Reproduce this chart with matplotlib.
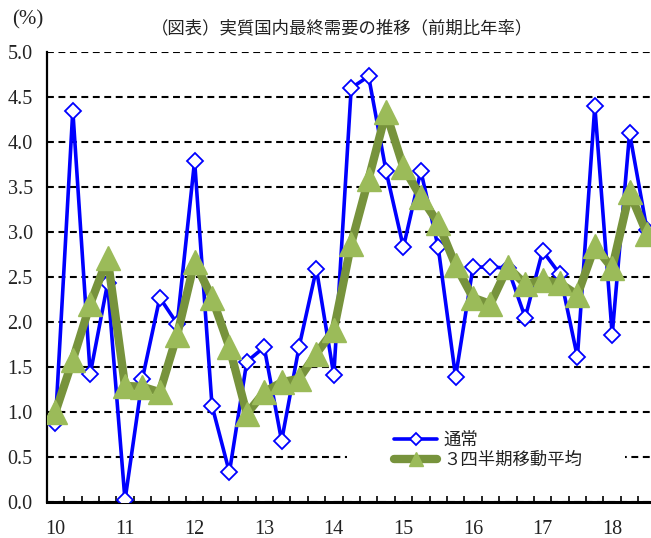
import matplotlib.pyplot as plt
from matplotlib.patches import Rectangle
import numpy as np

# 2010Q1 .. 2018Q3, one value per quarter
years = ['10', '11', '12', '13', '14', '15', '16', '17', '18']
normal = [0.88, 4.35, 1.42, 2.43, 0.02, 1.37, 2.27, 1.98,
          3.79, 1.07, 0.33, 1.56, 1.72, 0.68, 1.72, 2.59,
          1.41, 4.60, 4.73, 3.68, 2.83, 3.68, 2.83, 1.39,
          2.61, 2.61, 2.60, 2.05, 2.79, 2.53, 1.61, 4.40,
          1.86, 4.10, 3.02]
moving = [1.00, 1.58, 2.20, 2.71, 1.29, 1.28, 1.22, 1.86,
          2.67, 2.27, 1.72, 0.98, 1.22, 1.33, 1.37, 1.65,
          1.91, 2.87, 3.59, 4.33, 3.72, 3.39, 3.10, 2.63,
          2.27, 2.20, 2.61, 2.42, 2.47, 2.43, 2.30, 2.84,
          2.60, 3.44, 2.98]
yticks = [0.0, 0.5, 1.0, 1.5, 2.0, 2.5, 3.0, 3.5, 4.0, 4.5, 5.0]

title = '（図表）実質国内最終需要の推移（前期比年率）'
labels = ['通常', '３四半期移動平均']

JP = ['Noto Sans CJK JP', 'DejaVu Sans']
SERIF = 'Liberation Serif'
TXT = '#222222'

fig = plt.figure(figsize=(6.51, 5.38), dpi=100)
W, H = 651, 538
# axes runs past the right edge of the picture, as in the original
ax = fig.add_axes([46.7 / W, 36 / H, 609 / W, 450 / H])

x = np.arange(len(normal))
ax.plot(x, normal, color='#0000FF', lw=2.6, marker='D', ms=8,
        mfc='white', mec='#0000FF', mew=1.3, label=labels[0], zorder=3)
ax.plot(x, moving, color='#77933C', lw=6, marker='^', ms=17,
        mfc='#9BBB59', mec='#9BBB59', label=labels[1], zorder=4)

ax.set_xlim(-0.5, len(normal) - 0.5)
ax.set_ylim(0, 5)

ax.set_yticks(yticks)
ax.set_yticklabels([f'{v:.1f}' for v in yticks], family=SERIF, fontsize=14.5, color=TXT)
ax.tick_params(axis='y', length=0, pad=10)

ax.set_xticks(np.arange(0, len(normal), 4))
ax.set_xticklabels(years, family=SERIF, fontsize=14.5, color=TXT)
ax.set_xticks(np.arange(-0.5, len(normal) + 0.5, 1), minor=True)
ax.tick_params(axis='x', which='major', length=0, pad=13)
ax.tick_params(axis='x', which='minor', direction='in', length=4.5, width=1.2)

ax.set_axisbelow(True)
ax.yaxis.grid(True, color='black', ls=(0, (3.3, 2.2)), lw=1.5)

ax.spines['top'].set_visible(False)
ax.spines['right'].set_visible(False)
ax.spines['bottom'].set_linewidth(2.2)
ax.spines['left'].set_linewidth(1.6)

# white legend area covering the gridline
ax.add_patch(Rectangle(((347 - 46.7) / 609, (502 - 490) / 450),
                       (625 - 347) / 609, (490 - 422) / 450,
                       transform=ax.transAxes, fc='white', ec='none', zorder=1))
leg = ax.legend(loc='upper left', bbox_to_anchor=((394 - 46.7) / 609, (502 - 431) / 450),
                frameon=False, borderpad=0, borderaxespad=0, handlelength=2.5,
                handletextpad=0.35, labelspacing=0.12, prop={'family': JP, 'size': 12.5})
for t in leg.get_texts():
    t.set_color(TXT)
for h, ms in zip(leg.legend_handles, [6.5, 10]):
    h.set_markersize(ms)
    h.set_solid_capstyle('round')

fig.text(342 / W, 1 - 28 / H, title, ha='center', va='center',
         fontsize=12.5, family=JP, color=TXT)
fig.text(28 / W, 1 - 20 / H, '(%)', ha='center', va='center',
         fontsize=15, family=SERIF, color=TXT)

fig.savefig('out.png', dpi=100)
